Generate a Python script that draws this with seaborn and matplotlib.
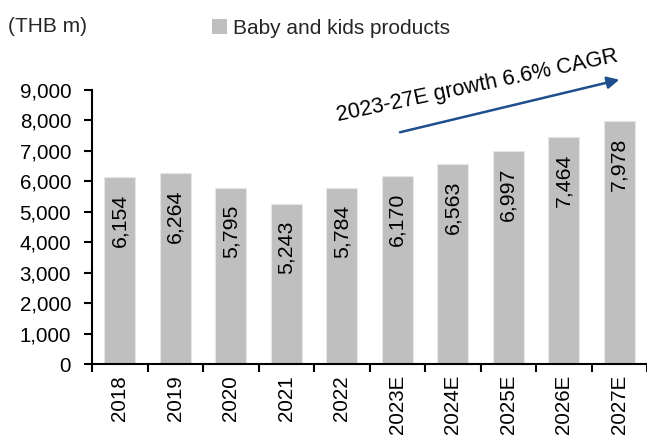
import matplotlib
matplotlib.use("Agg")
import matplotlib.pyplot as plt
import seaborn as sns
import pandas as pd

years = ["2018", "2019", "2020", "2021", "2022", "2023E", "2024E", "2025E", "2026E", "2027E"]
values = [6154, 6264, 5795, 5243, 5784, 6170, 6563, 6997, 7464, 7978]
series_name = "Baby and kids products"
y_ticks = [0, 1000, 2000, 3000, 4000, 5000, 6000, 7000, 8000, 9000]

sns.set_theme(style="white")
plt.rcParams["font.family"] = ["Liberation Sans", "DejaVu Sans"]

df = pd.DataFrame({"year": years, "value": values, "series": series_name})

fig = plt.figure(figsize=(6.47, 4.37), dpi=100)
ax = fig.add_axes([92 / 647, 73 / 437, 1 - 92 / 647, 274 / 437])

sns.barplot(data=df, x="year", y="value", hue="series", palette=["#BFBFBF"],
            width=0.56, edgecolor="#E6E6E6", linewidth=0.8, ax=ax, legend=False)

ax.set_ylim(0, 9000)
ax.set_xlim(-0.5, len(years) - 0.5)
ax.set_yticks(y_ticks)
ax.set_yticklabels([f"{v:,}" for v in y_ticks], fontsize=14.8, color="black")
ax.set_xticks(range(len(years)))
ax.set_xticklabels(years, rotation=90, fontsize=14.8, color="black")
ax.set_xlabel("")
ax.set_ylabel("")

# x ticks sit between categories
ax.tick_params(axis="x", which="major", length=0, pad=8)
ax.set_xticks([i - 0.5 for i in range(len(years) + 1)], minor=True)
ax.tick_params(axis="x", which="minor", direction="out", length=6, width=1.5, color="black", bottom=True)
ax.tick_params(axis="y", direction="out", length=6, width=1.5, color="black", left=True, pad=9)

for side in ["top", "right"]:
    ax.spines[side].set_visible(False)
for side in ["left", "bottom"]:
    ax.spines[side].set_color("black")
    ax.spines[side].set_linewidth(1.5)

for i, v in enumerate(values):
    ax.annotate(f"{v:,}", xy=(i, v), xytext=(0, -12), textcoords="offset points",
                rotation=90, ha="center", va="top", fontsize=15.3, color="black")

# growth arrow and label
ax.annotate("", xy=(9.05, 9360), xytext=(5.0, 7590),
            arrowprops=dict(arrowstyle="-|>", color="#1F4E8C", lw=1.8, mutation_scale=18),
            annotation_clip=False)
ax.text(6.45, 9130, "2023-27E growth 6.6% CAGR", rotation=12, ha="center", va="center",
        fontsize=15.5, color="black", rotation_mode="anchor", clip_on=False)

fig.text(8 / 647, 1 - 26 / 437, "(THB m)", fontsize=15, ha="left", va="center")

handle = plt.Rectangle((0, 0), 1, 1, facecolor="#BFBFBF", edgecolor="none")
fig.legend([handle], [series_name], loc="center left",
           bbox_to_anchor=(212 / 647, 1 - 28 / 437), frameon=False, fontsize=15,
           handlelength=0.7, handleheight=0.7, handletextpad=0.3, borderpad=0, borderaxespad=0)

fig.savefig("out.png", dpi=100)
